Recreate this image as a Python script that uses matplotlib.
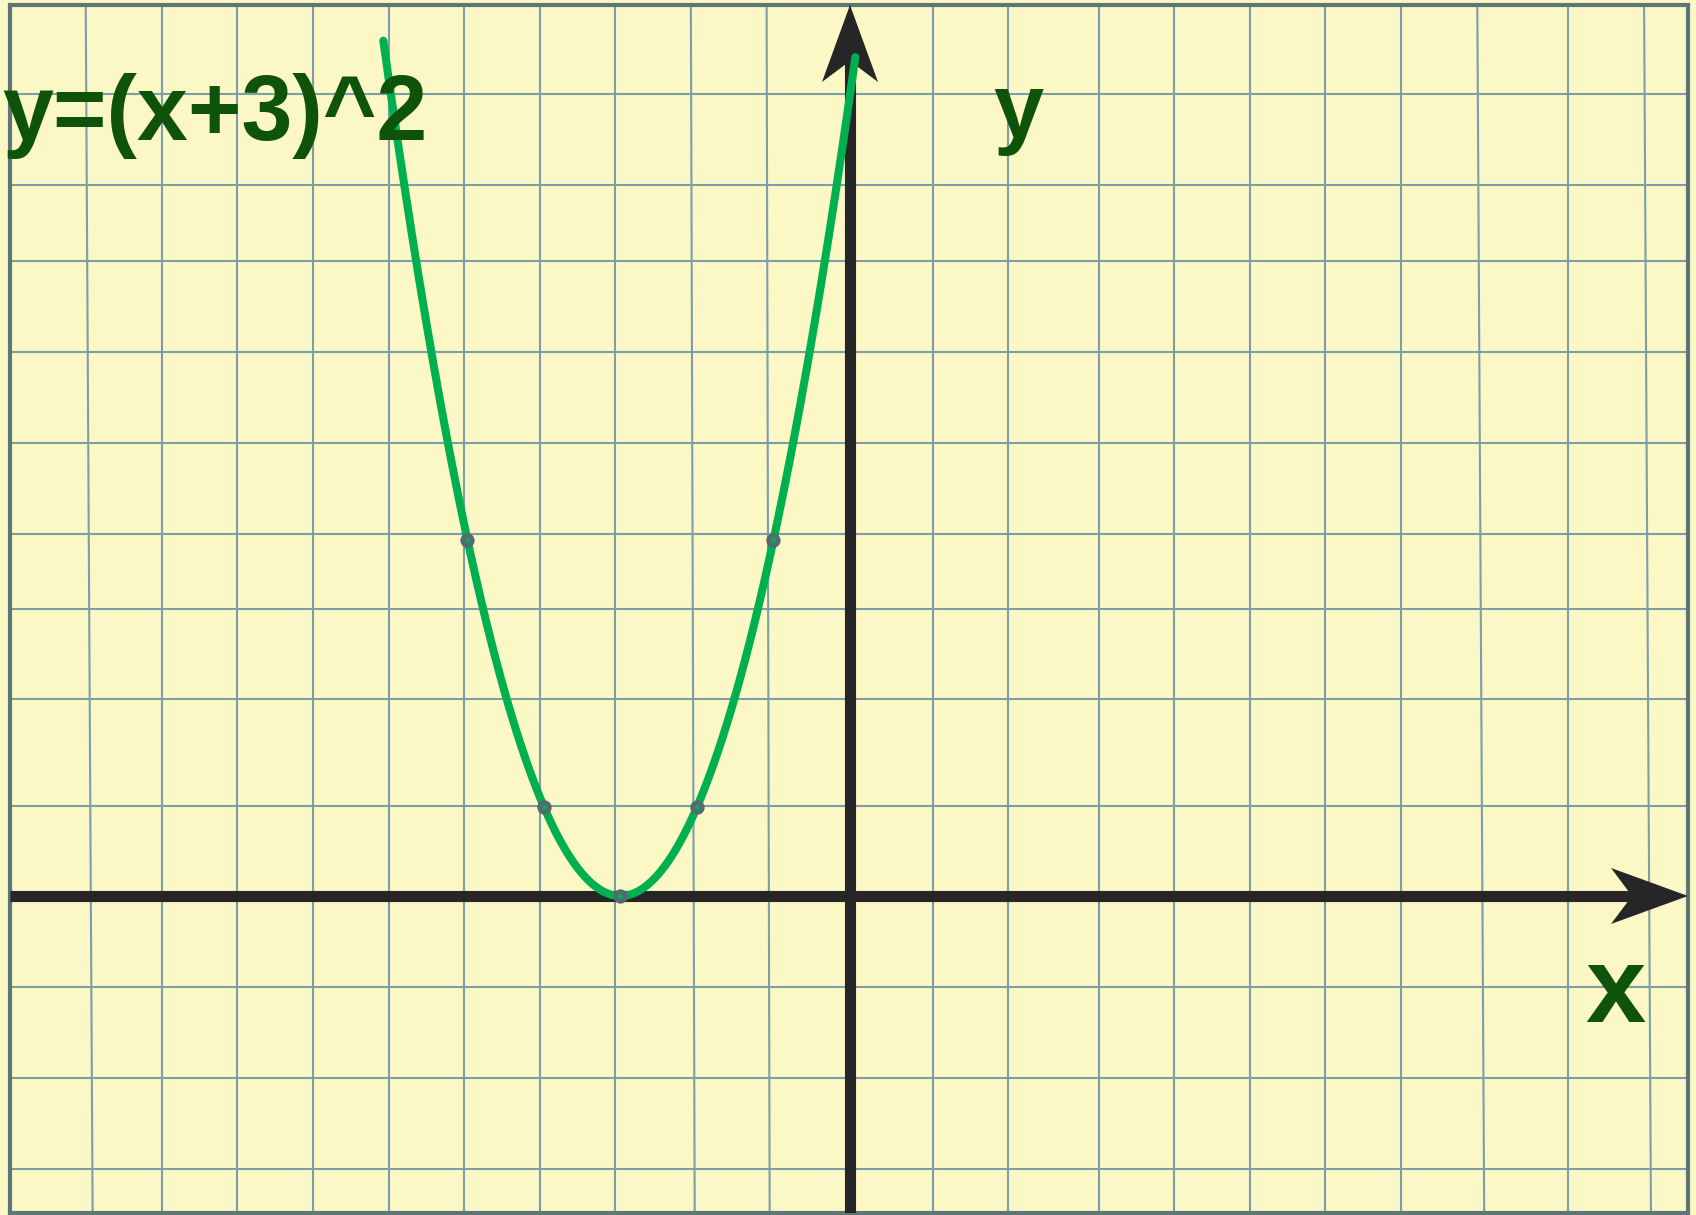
import numpy as np
import matplotlib.pyplot as plt
from matplotlib.patches import Polygon

# Plotted function and marked points
formula = "y=(x+3)^2"
x_label = "x"
y_label = "y"
point_x = [-5, -4, -3, -2, -1]
point_y = [4, 1, 0, 1, 4]
curve_start, curve_end = -6.1, 0.07

# Hand-drawn grid (data units); some vertical lines lean slightly
vgrid_top = [-9.99, -8.99, -8.01, -7.02, -6.03, -5.05, -4.05, -3.07, -2.08, -1.09,
             0.0, 1.08, 2.07, 3.26, 4.24, 5.23, 6.21, 7.20, 8.20, 9.39, 10.38]
vgrid_bottom = [-9.90, -8.99, -8.01, -7.02, -6.03, -5.05, -4.05, -3.07, -2.03, -1.05,
                0.0, 1.08, 2.07, 3.26, 4.24, 5.23, 6.21, 7.20, 8.29, 9.39, 10.47]
hgrid = [9.01, 7.99, 7.14, 6.11, 5.09, 4.07, 3.23, 2.21, 1.01, 0.0,
         -1.02, -2.05, -3.07]

BG = "#fcf8c6"
GRID = "#7b9ea8"
FRAME = "#5e7678"
AXIS = "#262626"
TEXT = "#0e5309"
CURVE = "#00b050"
DOT = "#566872"

W, H = 1696, 1215
fig = plt.figure(figsize=(W / 100, H / 100), dpi=100, facecolor=BG)
ax = fig.add_axes([10 / W, 2 / H, 1678 / W, 1208 / H])
ax.set_facecolor(BG)
xmin, xmax = -10.98, 10.954
ymin, ymax = -3.562, 10.011
ax.set_xlim(xmin, xmax)
ax.set_ylim(ymin, ymax)
ax.set_xticks([])
ax.set_yticks([])
for s in ax.spines.values():
    s.set_color(FRAME)
    s.set_linewidth(3)

# pixels per data unit
px_x = 1678 / (xmax - xmin)
px_y = 1208 / (ymax - ymin)

for xt, xb in zip(vgrid_top, vgrid_bottom):
    ax.plot([xb, xt], [ymin, ymax], color=GRID, lw=1.5, zorder=1)
for yv in hgrid:
    ax.plot([xmin, xmax], [yv, yv], color=GRID, lw=1.5, zorder=1)

# axes with notched arrowheads
head_len, head_half, notch = 77, 28, 21
ax.plot([xmin, xmax - (head_len - notch) / px_x], [0, 0],
        color=AXIS, lw=8, solid_capstyle="butt", zorder=3)
ax.plot([0, 0], [ymin, ymax - (head_len - notch) / px_y],
        color=AXIS, lw=8, solid_capstyle="butt", zorder=3)
xhead = [(xmax, 0),
         (xmax - head_len / px_x, head_half / px_y),
         (xmax - (head_len - notch) / px_x, 0),
         (xmax - head_len / px_x, -head_half / px_y)]
yhead = [(0, ymax),
         (head_half / px_x, ymax - head_len / px_y),
         (0, ymax - (head_len - notch) / px_y),
         (-head_half / px_x, ymax - head_len / px_y)]
for pts in (xhead, yhead):
    ax.add_patch(Polygon(pts, closed=True, color=AXIS, lw=0, zorder=3,
                         clip_on=False))

# parabola and marked points
xc = np.linspace(curve_start, curve_end, 400)
ax.plot(xc, (xc + 3) ** 2, color=CURVE, lw=5.8, solid_capstyle="round",
        zorder=4, clip_on=False)
ax.plot(point_x, point_y, "o", ms=7, mfc=CURVE, mec=DOT, mew=3.3, zorder=5)

# labels
ax.text(-11.08, 8.49, formula, fontsize=66, fontweight="bold", color=TEXT,
        family="Liberation Sans", ha="left", va="baseline", clip_on=False,
        zorder=6)
ax.text(2.196, 8.53, y_label, fontsize=65, fontweight="bold", color=TEXT,
        family="Liberation Sans", ha="center", va="baseline", zorder=6)
ax.text(10.0, -1.416, x_label, fontsize=78, fontweight="bold", color=TEXT,
        family="Liberation Sans", ha="center", va="baseline", zorder=6)

fig.savefig("out.png", dpi=100, facecolor=BG)
